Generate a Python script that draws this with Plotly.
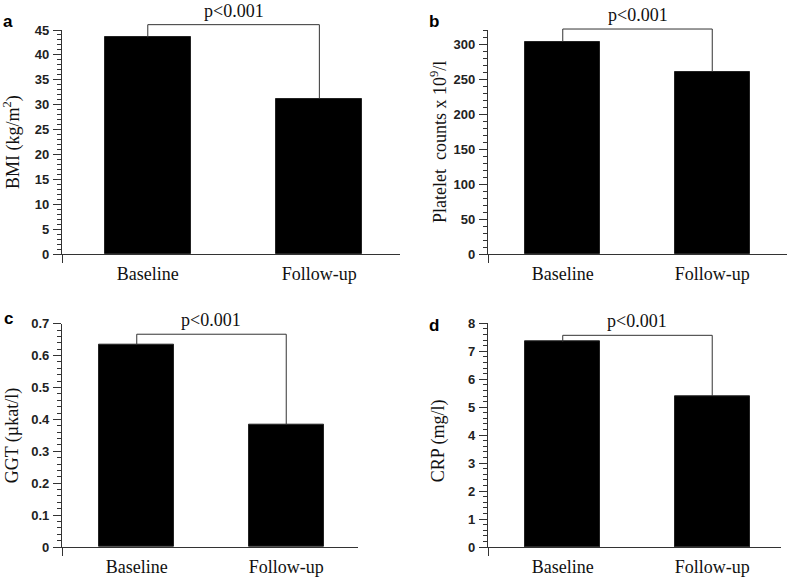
import plotly.graph_objects as go

# ---------------- data ----------------
categories = ["Baseline", "Follow-up"]
bmi = [43.5, 31.2]
platelets = [303, 260]
ggt = [0.633, 0.383]
crp = [7.34, 5.40]
p_values = ["p<0.001", "p<0.001", "p<0.001", "p<0.001"]
panel_letters = ["a", "b", "c", "d"]
y_titles = [
    "BMI (kg/m<sup>2</sup>)",
    "Platelet\u00a0 counts x 10<sup>9</sup>/l",
    "GGT (\u00b5kat/l)",
    "CRP\u2009(mg/l)",
]
y_max = [45, 320, 0.7, 8]
y_major = [5, 50, 0.1, 1]
y_minor = [1, 10, 0.02, 0.2]

series = [bmi, platelets, ggt, crp]

# ---------------- layout / style config ----------------
W, H = 787, 580
# panel boxes in pixels: (left, right, top, bottom)
boxes = [(62, 400, 30, 254), (488, 787, 30, 254), (62, 358, 323.7, 547), (488, 781, 323.3, 547)]
x_right = [1.47, 1.50, 1.48, 1.46]
bracket_levels = [46.07, 321.4, 0.667, 7.57]
title_yshift = [0, 0, 0, -6]
letter_yshift = [8, 8.3, 5.7, -1.7]
LINE = "#333333"
SERIF = "Liberation Serif, Times New Roman, serif"
SANS = "Liberation Sans, Arial, sans-serif"

fig = go.Figure()
layout = dict(
    template="none",
    width=W, height=H,
    margin=dict(l=0, r=0, t=0, b=0, pad=0, autoexpand=False),
    paper_bgcolor="white", plot_bgcolor="rgba(0,0,0,0)",
    showlegend=False, hovermode=False,
    bargap=0,
)
annotations = []

for i in range(4):
    k = i + 1
    kb = i + 5
    xs = "x" if k == 1 else f"x{k}"
    ys = "y" if k == 1 else f"y{k}"
    ybs = f"y{kb}"
    left, right, top, bottom = boxes[i]
    xdom = [left / W, right / W]
    ydom = [1 - bottom / H, 1 - top / H]

    vals = series[i]
    xpos = list(range(len(categories)))

    fig.add_trace(go.Bar(
        x=xpos, y=vals, width=0.5, xaxis=xs, yaxis=ys,
        marker=dict(color="black", line=dict(color="#222222", width=1)),
    ))
    # significance bracket on an auxiliary (taller, same scale) axis
    fig.add_trace(go.Scatter(
        x=[xpos[0], xpos[0], xpos[1], xpos[1]],
        y=[vals[0], bracket_levels[i], bracket_levels[i], vals[1]],
        mode="lines", line=dict(color=LINE, width=1),
        xaxis=xs, yaxis=ybs,
    ))

    xkey = "xaxis" if k == 1 else f"xaxis{k}"
    ykey = "yaxis" if k == 1 else f"yaxis{k}"
    layout[xkey] = dict(
        domain=xdom, anchor=ys, type="linear", automargin=False,
        range=[-0.5, x_right[i]],
        tickmode="array", tickvals=xpos, ticktext=categories,
        ticks="", showgrid=False, zeroline=False,
        showline=True, linecolor=LINE, linewidth=1.3,
        tickfont=dict(family=SERIF, size=18, color="#111111"),
        ticklabelstandoff=3,
        minor=dict(tickmode="array", tickvals=[-0.5], ticks="outside",
                   ticklen=8, tickwidth=1.3, tickcolor=LINE, showgrid=False),
    )
    layout[ykey] = dict(
        domain=ydom, anchor=xs, range=[0, y_max[i]], automargin=False,
        tickmode="linear", tick0=0, dtick=y_major[i],
        ticks="outside", ticklen=8, tickwidth=1, tickcolor=LINE,
        showline=True, linecolor=LINE, linewidth=1.3,
        showgrid=False, zeroline=False,
        tickfont=dict(family=SANS, size=13, color="#222222", weight="bold"),
        minor=dict(dtick=y_minor[i], tick0=0, ticks="outside", ticklen=4,
                   tickwidth=1, tickcolor=LINE, showgrid=False),
        ticklabelstandoff=1,
    )
    layout[f"yaxis{kb}"] = dict(
        domain=[ydom[0], min(1.0, ydom[1] + 0.06)], anchor=xs,
        range=[0, y_max[i]], visible=False, automargin=False,
        showgrid=False, zeroline=False,
        scaleanchor=ys, scaleratio=1, constrain="range", constraintoward="bottom",
    )

    annotations.append(dict(
        xref=xs, yref=ybs, x=0.5, y=bracket_levels[i],
        text=p_values[i], showarrow=False, xanchor="center", yanchor="bottom",
        yshift=2, font=dict(family=SERIF, size=18, color="#111111"),
    ))
    annotations.append(dict(
        xref=f"{xs} domain", yref=f"{ys} domain", x=0, y=0.5,
        xshift=-50, yshift=title_yshift[i], textangle=-90,
        text=y_titles[i], showarrow=False, xanchor="center", yanchor="middle",
        font=dict(family=SERIF, size=18, color="#111111"),
    ))
    annotations.append(dict(
        xref=f"{xs} domain", yref=f"{ys} domain", x=0, y=1,
        xshift=-54, yshift=letter_yshift[i],
        text=f"<b>{panel_letters[i]}</b>", showarrow=False,
        xanchor="center", yanchor="middle",
        font=dict(family=SANS, size=17, color="black"),
    ))

layout["annotations"] = annotations
fig.update_layout(**layout)
fig.write_html(
    "out.html",
    config={"displayModeBar": False},
    post_script="document.body.style.margin='0';document.body.style.overflow='hidden';",
)
